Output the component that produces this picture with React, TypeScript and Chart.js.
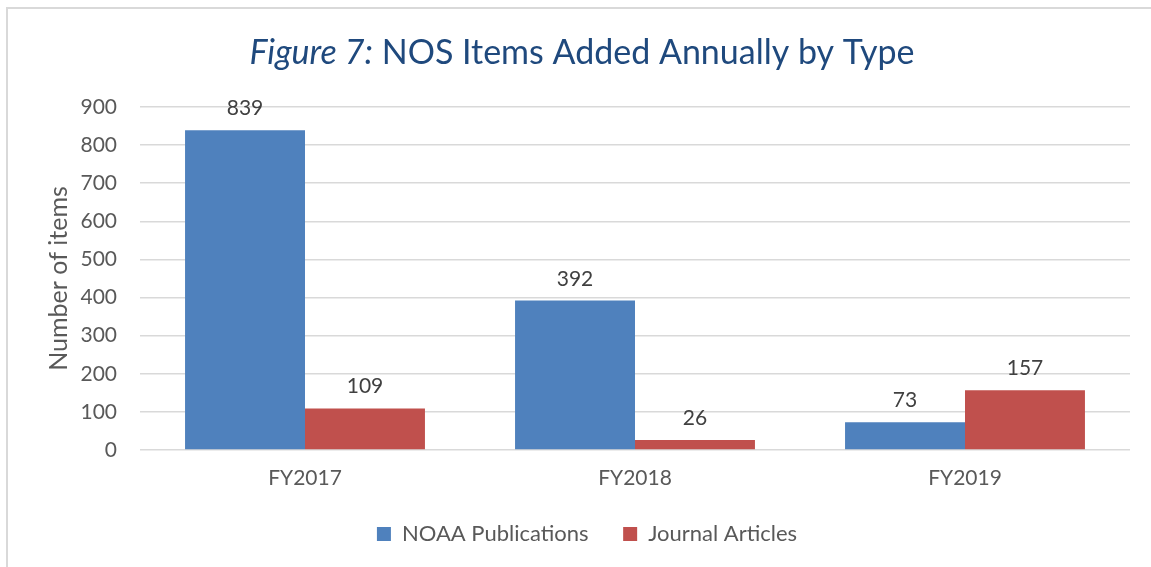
import React, { useEffect, useRef } from "react";
import { Chart, registerables } from "chart.js";

Chart.register(...registerables);

const categories = ["FY2017", "FY2018", "FY2019"];
const noaaPublications = [839, 392, 73];
const journalArticles = [109, 26, 157];
const seriesNames = ["NOAA Publications", "Journal Articles"];
const yTicksMax = 900;
const yTicksStep = 100;
const titleItalic = "Figure 7:";
const titleRest = " NOS Items Added Annually by Type";
const yAxisTitle = "Number of items";

const FONT = "Lato";
const TEXT = "#595959";

const titlePlugin = {
  id: "mixedTitle",
  afterDraw(chart: any) {
    const ctx = chart.ctx;
    ctx.save();
    const size = 34;
    ctx.fillStyle = "#1F497D";
    ctx.textBaseline = "alphabetic";
    ctx.font = `italic ${size}px ${FONT}`;
    const w1 = ctx.measureText(titleItalic).width;
    ctx.font = `${size}px ${FONT}`;
    const w2 = ctx.measureText(titleRest).width;
    const cx = 582;
    const x0 = cx - (w1 + w2) / 2;
    ctx.font = `italic ${size}px ${FONT}`;
    ctx.textAlign = "left";
    ctx.fillText(titleItalic, x0, 64);
    ctx.font = `${size}px ${FONT}`;
    ctx.fillText(titleRest, x0 + w1, 64);
    ctx.restore();
  },
};

const dataLabelPlugin = {
  id: "dataLabels",
  afterDatasetsDraw(chart: any) {
    const ctx = chart.ctx;
    ctx.save();
    ctx.font = `21px ${FONT}`;
    ctx.fillStyle = "#404040";
    ctx.textAlign = "center";
    ctx.textBaseline = "alphabetic";
    chart.data.datasets.forEach((ds: any, i: number) => {
      const meta = chart.getDatasetMeta(i);
      meta.data.forEach((el: any, j: number) => {
        ctx.fillText(String(ds.data[j]), el.x, el.y - 15);
      });
    });
    ctx.restore();
  },
};

export default function App() {
  const ref = useRef<HTMLCanvasElement | null>(null);
  useEffect(() => {
    if (!ref.current) return;
    const chart = new Chart(ref.current, {
      type: "bar",
      data: {
        labels: categories,
        datasets: [
          {
            label: seriesNames[0],
            data: noaaPublications,
            backgroundColor: "#4F81BD",
            categoryPercentage: 0.727,
            barPercentage: 1.0,
          },
          {
            label: seriesNames[1],
            data: journalArticles,
            backgroundColor: "#C0504D",
            categoryPercentage: 0.727,
            barPercentage: 1.0,
          },
        ],
      },
      options: {
        responsive: false,
        animation: false,
        layout: { padding: { top: 107, right: 21, bottom: 12, left: 44 } },
        plugins: {
          legend: {
            position: "bottom",
            labels: {
              font: { family: FONT, size: 22 },
              color: TEXT,
              boxWidth: 14,
              boxHeight: 14,
              padding: 12,
              generateLabels(chart: any) {
                const items = Chart.defaults.plugins.legend.labels.generateLabels(chart);
                return items.map((it: any, i: number) =>
                  i < items.length - 1 ? { ...it, text: it.text + "    " } : it
                );
              },
            },
          },
          title: { display: false },
          tooltip: { enabled: false },
        },
        scales: {
          x: {
            grid: { display: false, drawTicks: false },
            border: { display: false },
            ticks: { font: { family: FONT, size: 21 }, color: TEXT, padding: 16 },
            afterFit(scale: any) {
              scale.height = 61;
            },
          },
          y: {
            min: 0,
            max: yTicksMax,
            ticks: {
              stepSize: yTicksStep,
              font: { family: FONT, size: 21 },
              color: TEXT,
              padding: 23,
            },
            grid: { color: "#D9D9D9", lineWidth: 1.5, drawTicks: false },
            border: { display: false },
            title: {
              display: true,
              text: yAxisTitle,
              font: { family: FONT, size: 25 },
              color: TEXT,
              padding: { top: 0, bottom: 0 },
            },
            afterFit(scale: any) {
              scale.width = 96;
            },
          },
        },
      },
      plugins: [titlePlugin, dataLabelPlugin],
    } as any);
    return () => chart.destroy();
  }, []);

  return (
    <div style={{ position: "fixed", left: 0, top: 0, width: 1151, height: 567, background: "#fff", overflow: "hidden" }}>
      <div
        style={{
          position: "absolute",
          left: 6,
          top: 7,
          width: 2000,
          height: 2000,
          borderLeft: "2px solid #D9D9D9",
          borderTop: "2px solid #D9D9D9",
        }}
      />
      <canvas ref={ref} width={1151} height={567} style={{ position: "absolute", left: 0, top: 0, width: 1151, height: 567 }} />
    </div>
  );
}
